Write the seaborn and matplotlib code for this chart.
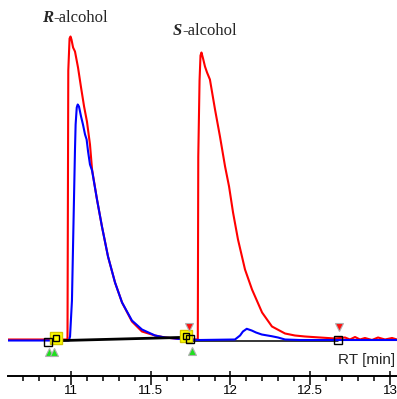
import matplotlib
matplotlib.use("Agg")
import matplotlib.pyplot as plt
import pandas as pd
import seaborn as sns
from matplotlib.ticker import MultipleLocator

# Detector traces: retention time (min) and signal (arbitrary units)
rt_red = [10.605, 10.969, 10.978, 10.983, 10.991, 10.997, 11.003, 11.013, 11.025,
          11.044, 11.063, 11.082, 11.100, 11.119, 11.132, 11.163, 11.194, 11.232,
          11.276, 11.320, 11.382, 11.445, 11.527, 11.589, 11.652, 11.715, 11.759,
          11.795, 11.798, 11.806, 11.812, 11.818, 11.828, 11.840, 11.853, 11.871,
          11.903, 11.934, 11.966, 11.991, 12.016, 12.047, 12.091, 12.135, 12.198,
          12.260, 12.342, 12.404, 12.467, 12.561, 12.655, 12.718, 12.749, 12.781,
          12.812, 12.843, 12.887, 12.925, 12.969, 13.013, 13.044]
sig_red = [1.0, 1.0, 1.5, 270, 302, 304, 301, 293, 289,
           273, 253, 234, 219, 196, 171, 141, 114, 84,
           58, 38, 19, 9, 5, 3, 2, 1, 1.0,
           1.0, 184, 260, 285, 288, 282, 274, 268, 261,
           231, 204, 174, 154, 128, 101, 71, 51, 28,
           14, 7, 5, 4, 3, 2, 3, 1, 3.5,
           1, 2.5, 0.5, 3, 1, 2.5, 1]

rt_blue = [10.605, 10.987, 10.994, 11.006, 11.016, 11.025, 11.029, 11.036, 11.042,
           11.050, 11.063, 11.075, 11.088, 11.098, 11.107, 11.119, 11.132, 11.163,
           11.194, 11.232, 11.276, 11.320, 11.382, 11.445, 11.527, 11.589, 11.652,
           11.715, 11.809, 12.028, 12.060, 12.078, 12.102, 12.133, 12.160, 12.196,
           12.258, 12.298, 12.342, 12.436, 13.044]
sig_blue = [0, 0, 4, 40, 120, 191, 216, 233, 236,
            234, 224, 216, 206, 201, 189, 176, 170, 141,
            114, 84, 58, 38, 20, 11, 5, 3, 2,
            1, 0.5, 1, 5, 9, 11.7, 10, 8, 6,
            4.3, 3, 1, 0.5, 0.5]

# Integration events
base1_rt = [10.906, 11.721]
base1_sig = [-0.2, 3.2]
base2_rt = [11.746, 12.674]
base2_sig = [-0.5, -0.5]
open_sq_rt = [10.856, 11.746, 12.674]
open_sq_sig = [-1.5, 1.5, 0.5]
yellow_sq_rt = [10.906, 11.721]
yellow_sq_sig = [2.5, 4.5]
green_tri_rt = [10.863, 10.895, 11.759]
green_tri_sig = [-11, -11, -10.5]
red_tri_rt = [11.737, 12.683]
red_tri_sig = [14, 13.5]

major_ticks = [11, 11.5, 12, 12.5, 13]
tick_labels = ["11", "11.5", "12", "12.5", "13"]

traces = pd.concat([
    pd.DataFrame({"rt": rt_red, "signal": sig_red, "trace": "red"}),
    pd.DataFrame({"rt": rt_blue, "signal": sig_blue, "trace": "blue"}),
], ignore_index=True)

sns.set_theme(style="white")
plt.rcParams["font.family"] = ["Liberation Sans", "DejaVu Sans"]

fig = plt.figure(figsize=(3.97, 3.99), dpi=100)
ax = fig.add_axes([8 / 397, 23.5 / 399, 389 / 397, 375.5 / 399])

sns.lineplot(data=traces, x="rt", y="signal", hue="trace",
             hue_order=["red", "blue"], palette={"red": "#ff0000", "blue": "#0000ff"},
             estimator=None, sort=False, linewidth=1.5, legend=False, ax=ax)

# Baselines
ax.plot(base1_rt, base1_sig, color="black", lw=2.0, zorder=4)
ax.plot(base2_rt, base2_sig, color="black", lw=1.1, zorder=1.5)

# Event markers
ax.plot(yellow_sq_rt, yellow_sq_sig, ls="none", marker="s", ms=8.5,
        mfc="#ffff00", mec="#d4c800", mew=1.0, zorder=5)
ax.plot(yellow_sq_rt, yellow_sq_sig, ls="none", marker="s", ms=5.0,
        mfc="none", mec="black", mew=1.0, zorder=6)
ax.plot(open_sq_rt, open_sq_sig, ls="none", marker="s", ms=6.0,
        mfc="none", mec="black", mew=1.0, zorder=6)
ax.plot(green_tri_rt, green_tri_sig, ls="none", marker="^", ms=6.0,
        mfc="#1ee01e", mec="#b0b0b0", mew=0.8, zorder=5)
ax.plot(red_tri_rt, red_tri_sig, ls="none", marker="v", ms=6.0,
        mfc="#ff1010", mec="#b0b0b0", mew=0.8, zorder=5)

# Peak labels
for x0, y0, tag in [(10.818, 318.5, "R"), (11.640, 305.5, "S")]:
    t = ax.text(x0, y0, tag, fontsize=12, family="Liberation Serif",
                weight="bold", style="italic", va="baseline", ha="left")
    ax.annotate("-alcohol", xy=(1, 0), xycoords=t, fontsize=12,
                family="Liberation Serif", va="bottom", ha="left")

ax.set_xlim(10.605, 13.044)
ax.set_ylim(-35, 340.5)
ax.set_xlabel("")
ax.set_ylabel("")
ax.set_yticks([])
for side in ["left", "right", "top"]:
    ax.spines[side].set_visible(False)
ax.spines["bottom"].set_color("black")
ax.spines["bottom"].set_linewidth(1.4)

ax.set_xticks(major_ticks)
ax.set_xticklabels(tick_labels)
ax.xaxis.set_minor_locator(MultipleLocator(0.1))
ax.tick_params(axis="x", which="major", direction="out", length=6.5, width=1.1,
               color="black", pad=0, labelsize=9.5, labelcolor="black", bottom=True)
ax.tick_params(axis="x", which="minor", direction="out", length=3.6, width=1.1,
               color="black", bottom=True)
ax.vlines(major_ticks, 0, 5 / 375.5, transform=ax.get_xaxis_transform(),
          color="black", lw=1.1, clip_on=False)

fig.text(395 / 397, 1 - 360 / 399, "RT [min]", fontsize=11, va="center", ha="right")

fig.savefig("out.png", dpi=100)
